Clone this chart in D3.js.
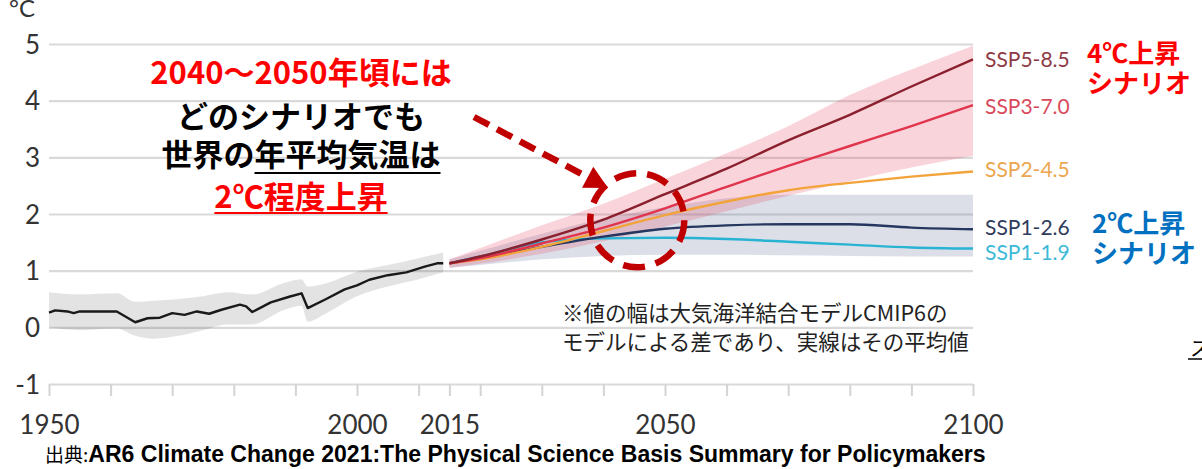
<!DOCTYPE html>
<html>
<head>
<meta charset="utf-8">
<script src="https://cdn.jsdelivr.net/npm/d3@7"></script>
<style>
  body { margin: 0; background: #fff; }
  svg { display: block; }
</style>
</head>
<body>
<div id="chart"></div>
<script>
// observed warming (black line + grey range), 1950-2014
const histYears = [1950, 1951, 1953, 1954, 1955, 1961, 1964, 1966, 1968, 1970, 1972, 1974, 1976, 1978, 1981, 1982, 1983, 1986, 1989, 1991, 1992, 1995, 1998, 2000, 2002, 2005, 2008, 2011, 2013, 2014];
const histMean  = [0.26, 0.30, 0.28, 0.25, 0.28, 0.28, 0.09, 0.16, 0.17, 0.25, 0.22, 0.28, 0.24, 0.31, 0.40, 0.37, 0.27, 0.44, 0.54, 0.60, 0.34, 0.50, 0.67, 0.74, 0.84, 0.92, 0.97, 1.07, 1.13, 1.13];

const histBandYears = [1950, 1955, 1961, 1964, 1967, 1971, 1975, 1979, 1983, 1988, 1991, 1992, 1995, 2000, 2005, 2010, 2014];
const histLow  = [0.00, -0.05, -0.02, -0.15, -0.20, -0.15, -0.05, 0.05, 0.05, 0.30, 0.38, 0.10, 0.25, 0.55, 0.72, 0.85, 0.97];
const histHigh = [0.62, 0.58, 0.60, 0.45, 0.47, 0.50, 0.55, 0.62, 0.58, 0.78, 0.85, 0.72, 0.78, 0.98, 1.10, 1.22, 1.32];

// scenario projections, 2015-2100
const projYears = [2015, 2020, 2030, 2040, 2050, 2060, 2070, 2080, 2090, 2100];
const ssp585 = [1.13, 1.25, 1.55, 1.90, 2.35, 2.80, 3.30, 3.75, 4.25, 4.73];
const ssp370 = [1.13, 1.22, 1.48, 1.76, 2.10, 2.48, 2.85, 3.20, 3.55, 3.92];
const ssp245 = [1.13, 1.20, 1.42, 1.70, 1.98, 2.22, 2.42, 2.55, 2.66, 2.75];
const ssp126 = [1.13, 1.22, 1.42, 1.60, 1.74, 1.80, 1.82, 1.82, 1.76, 1.73];
const ssp119 = [1.13, 1.25, 1.50, 1.57, 1.58, 1.56, 1.51, 1.46, 1.41, 1.39];

const ssp370Low  = [1.05, 1.12, 1.30, 1.52, 1.78, 2.05, 2.32, 2.58, 2.82, 3.03];
const ssp370High = [1.20, 1.40, 1.80, 2.18, 2.62, 3.07, 3.55, 4.10, 4.55, 4.97];
const ssp126Low  = [1.05, 1.10, 1.20, 1.26, 1.28, 1.28, 1.27, 1.26, 1.25, 1.25];
const ssp126High = [1.20, 1.35, 1.65, 1.92, 2.12, 2.28, 2.34, 2.34, 2.34, 2.34];

const seriesNames  = ["SSP5-8.5", "SSP3-7.0", "SSP2-4.5", "SSP1-2.6", "SSP1-1.9"];
const seriesValues = [ssp585, ssp370, ssp245, ssp126, ssp119];
const lineColors   = ["#8a1f2d", "#e0354d", "#f2a33a", "#25375f", "#29b3d3"];
const labelColors  = ["#8e3b46", "#d94a5d", "#eba64f", "#303c5b", "#3db9d7"];
const labelYs      = [60, 107, 170, 228, 253];

const yTicks = [-1, 0, 1, 2, 3, 4, 5];
const xTicks = [1950, 1960, 1970, 1980, 1990, 2000, 2010, 2015, 2020, 2030, 2040, 2050, 2060, 2070, 2080, 2090, 2100];
const xLabels = [1950, 2000, 2015, 2050, 2100];

const headline = ["2040～2050年頃には", "どのシナリオでも", "世界の年平均気温は", "2℃程度上昇"];
const noteLines = ["※値の幅は大気海洋結合モデルCMIP6の", "モデルによる差であり、実線はその平均値"];

const width = 1202, height = 469;

const svg = d3.select("#chart")
  .append("svg")
    .attr("width", width)
    .attr("height", height)
    .attr("viewBox", [0, 0, width, height]);

svg.append("rect").attr("width", width).attr("height", height).attr("fill", "#fff");

const x = d3.scaleLinear().domain([1950, 2100]).range([49, 973]);
const y = d3.scaleLinear().domain([-1, 5]).range([384, 44]);

// grid + y labels
const yAxis = svg.append("g")
    .attr("transform", `translate(${x(1950)},0)`)
    .call(d3.axisLeft(y).tickValues(yTicks).tickSize(-(x(2100) - x(1950))).tickPadding(9).tickFormat(d => String(d)));
yAxis.select(".domain").remove();
yAxis.selectAll("line").attr("stroke", "#d9d9d9").attr("stroke-width", 2.2);
yAxis.selectAll("text")
    .attr("fill", "#333")
    .attr("font-family", "Lato, sans-serif")
    .attr("font-size", 26)
    .attr("dy", "0.35em");

// x ticks hanging under the -1 line
const xAxis = svg.append("g")
    .attr("transform", `translate(0,${y(-1)})`)
    .call(d3.axisBottom(x).tickValues(xTicks).tickSize(12).tickPadding(20)
      .tickFormat(d => xLabels.includes(d) ? d : ""));
xAxis.select(".domain").remove();
xAxis.selectAll("line").attr("stroke", "#d4d4d4").attr("stroke-width", 2);
xAxis.selectAll("text")
    .attr("fill", "#333")
    .attr("font-family", "Lato, sans-serif")
    .attr("font-size", 26)
    .attr("dy", "0.71em");

svg.append("text")
    .attr("x", 9)
    .attr("y", 17)
    .attr("fill", "#333")
    .attr("font-family", "Lato, sans-serif")
    .attr("font-size", 24)
    .text("°C");

// bands
const histBand = d3.area()
    .x((d, i) => x(histBandYears[i]))
    .y0((d, i) => y(histLow[i]))
    .y1((d, i) => y(histHigh[i]))
    .curve(d3.curveMonotoneX);
svg.append("path")
    .datum(histBandYears)
    .attr("fill", "rgba(0,0,0,0.11)")
    .attr("d", histBand);

const projBand = (lo, hi) => d3.area()
    .x((d, i) => x(projYears[i]))
    .y0((d, i) => y(lo[i]))
    .y1((d, i) => y(hi[i]))
    .curve(d3.curveMonotoneX)(projYears);

svg.append("path")
    .attr("fill", "rgba(60,80,130,0.18)")
    .attr("d", projBand(ssp126Low, ssp126High));
svg.append("path")
    .attr("fill", "rgba(232,60,90,0.22)")
    .attr("d", projBand(ssp370Low, ssp370High));

// lines
svg.append("path")
    .datum(histMean)
    .attr("fill", "none")
    .attr("stroke", "#1a1a1a")
    .attr("stroke-width", 2.4)
    .attr("stroke-linejoin", "round")
    .attr("d", d3.line().x((d, i) => x(histYears[i])).y(d => y(d)));

const projLine = d3.line()
    .x((d, i) => x(projYears[i]))
    .y(d => y(d))
    .curve(d3.curveMonotoneX);

// draw low scenarios first so the high ones sit on top
svg.append("g")
  .selectAll("path")
  .data(seriesValues.map((v, i) => ({ v, c: lineColors[i] })).reverse())
  .join("path")
    .attr("fill", "none")
    .attr("stroke", d => d.c)
    .attr("stroke-width", 2.4)
    .attr("d", d => projLine(d.v));

svg.append("g")
  .selectAll("text")
  .data(seriesNames)
  .join("text")
    .attr("x", 985)
    .attr("y", (d, i) => labelYs[i])
    .attr("dy", "0.35em")
    .attr("fill", (d, i) => labelColors[i])
    .attr("font-family", "Lato, sans-serif")
    .attr("font-size", 21)
    .text(d => d);

// scenario group labels
const jp = "'Noto Sans CJK JP', sans-serif";
const groupLabel = (tx, ty, lines, color) => {
  svg.append("text")
      .attr("x", tx)
      .attr("y", ty)
      .attr("fill", color)
      .attr("font-family", jp)
      .attr("font-weight", 700)
      .attr("font-size", 26)
    .selectAll("tspan")
    .data(lines)
    .join("tspan")
      .attr("x", tx)
      .attr("dy", (d, i) => i ? 30 : 0)
      .text(d => d);
};
groupLabel(1087, 63, ["4℃上昇", "シナリオ"], "#ff0000");
groupLabel(1092, 233, ["2℃上昇", "シナリオ"], "#0070c0");

// headline annotation
const hl = svg.append("g")
    .attr("font-family", jp)
    .attr("font-weight", 700)
    .attr("font-size", 31)
    .attr("text-anchor", "middle");
const hlColors = ["#ff0000", "#000", "#000", "#ff0000"];
const hlBase = [84, 128, 166, 208];
const hlText = hl.selectAll("text")
  .data(headline)
  .join("text")
    .attr("x", 301)
    .attr("y", (d, i) => hlBase[i])
    .attr("fill", (d, i) => hlColors[i])
    .text(d => d);

// underlines: "年平均気温は" and the whole last line
const underline = (node, from, to, uy, color) => {
  const x0 = node.getStartPositionOfChar(from).x;
  const x1 = node.getEndPositionOfChar(to).x;
  svg.append("line")
      .attr("x1", x0).attr("x2", x1)
      .attr("y1", uy).attr("y2", uy)
      .attr("stroke", color)
      .attr("stroke-width", 2.2);
};
underline(hlText.nodes()[2], 3, 8, 173, "#000");
underline(hlText.nodes()[3], 0, headline[3].length - 1, 213, "#ff0000");

// dashed arrow and circle
const circ = { cx: x(2045.5), cy: y(1.89), r: 47 };
svg.append("circle")
    .attr("cx", circ.cx)
    .attr("cy", circ.cy)
    .attr("r", circ.r)
    .attr("fill", "none")
    .attr("stroke", "#c00000")
    .attr("stroke-width", 6.5)
    .attr("stroke-dasharray", "22 11");

const a0 = [474, 117], tip = [608, 188];
const len = Math.hypot(tip[0] - a0[0], tip[1] - a0[1]);
const ux = (tip[0] - a0[0]) / len, uy = (tip[1] - a0[1]) / len;
const base = [tip[0] - 23 * ux, tip[1] - 23 * uy];
svg.append("line")
    .attr("x1", a0[0]).attr("y1", a0[1])
    .attr("x2", base[0] + 2 * ux).attr("y2", base[1] + 2 * uy)
    .attr("stroke", "#c00000")
    .attr("stroke-width", 6.5)
    .attr("stroke-dasharray", "17 9");
svg.append("path")
    .attr("fill", "#c00000")
    .attr("d", d3.line()([
      tip,
      [base[0] - 12 * uy, base[1] + 12 * ux],
      [base[0] + 12 * uy, base[1] - 12 * ux]
    ]) + "Z");

// note
svg.append("g")
    .attr("font-family", jp)
    .attr("font-size", 21.5)
    .attr("fill", "#222")
  .selectAll("text")
  .data(noteLines)
  .join("text")
    .attr("x", 562)
    .attr("y", (d, i) => 321 + i * 29)
    .text(d => d);

// cropped piece of the next slide at the right edge
svg.append("text")
    .attr("x", 1190)
    .attr("y", 356)
    .attr("font-family", jp)
    .attr("font-size", 20)
    .attr("fill", "#000")
    .text("ス");
svg.append("line")
    .attr("x1", 1188).attr("x2", 1202)
    .attr("y1", 359).attr("y2", 359)
    .attr("stroke", "#000")
    .attr("stroke-width", 1.5);

// source
const src = svg.append("text")
    .attr("x", 45)
    .attr("y", 462)
    .attr("fill", "#000");
src.append("tspan")
    .attr("font-family", jp)
    .attr("font-size", 19)
    .text("出典:");
const srcBold = src.append("tspan")
    .attr("font-family", "'Liberation Sans', Arial, sans-serif")
    .attr("font-weight", 700)
    .attr("font-size", 19)
    .text("AR6 Climate Change 2021:The Physical Science Basis Summary for Policymakers");
const w = srcBold.node().getComputedTextLength();
srcBold.attr("font-size", 19 * 898 / w);
</script>
</body>
</html>
